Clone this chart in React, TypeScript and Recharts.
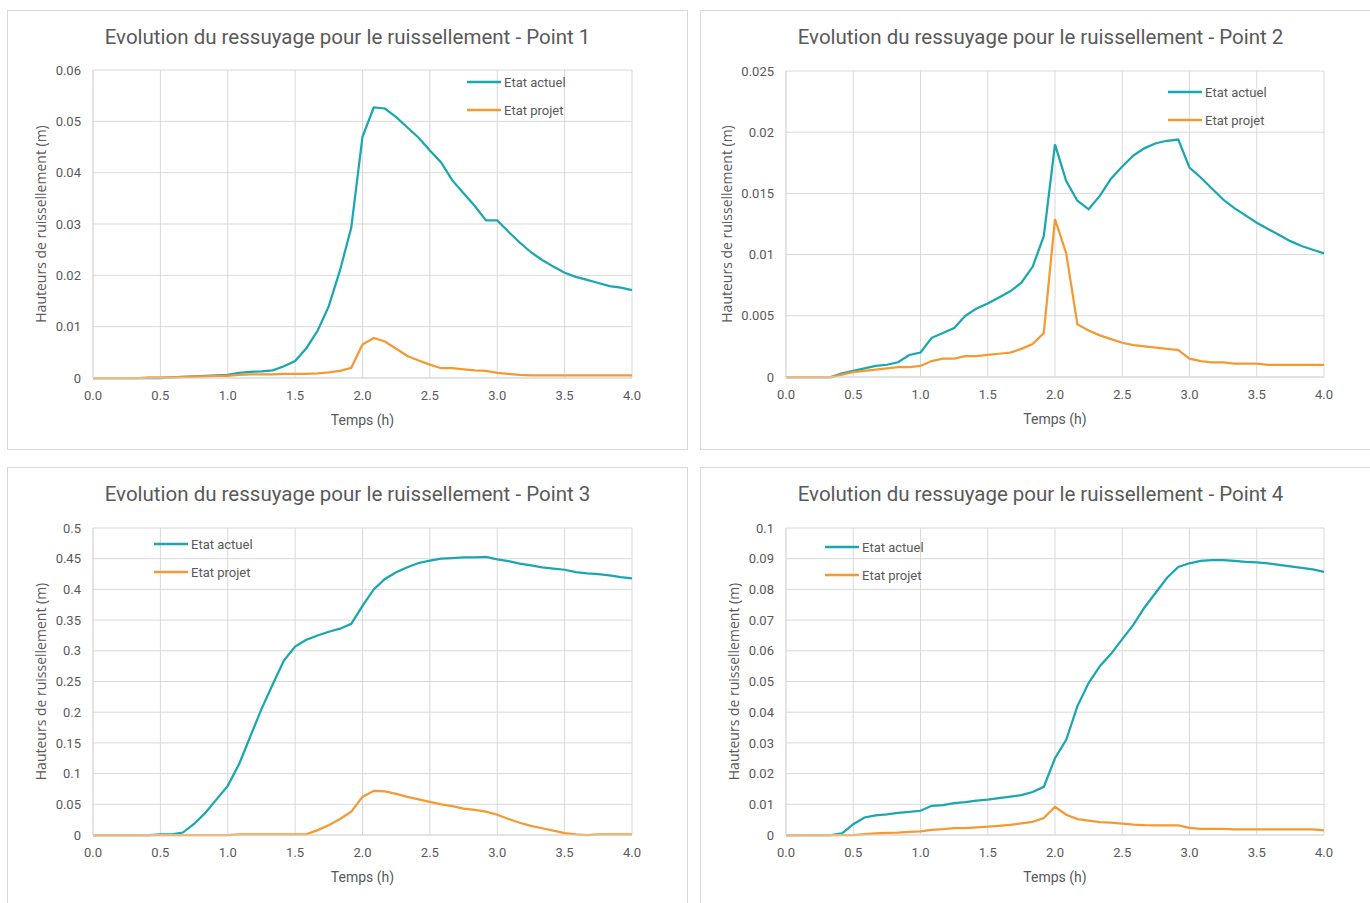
import React from 'react';
import { LineChart, Line, XAxis, YAxis, CartesianGrid, Legend } from 'recharts';

// Time steps (minutes), 5-minute interval over 4 hours
const MINUTES = [
  0, 5, 10, 15, 20, 25, 30, 35, 40, 45, 50, 55, 60, 65, 70, 75, 80, 85, 90, 95, 100, 105, 110, 115, 120,
  125, 130, 135, 140, 145, 150, 155, 160, 165, 170, 175, 180, 185, 190, 195, 200, 205, 210, 215, 220, 225,
  230, 235, 240,
];

const X_TICKS = [0, 0.5, 1, 1.5, 2, 2.5, 3, 3.5, 4];

const SERIES_NAMES = ['Etat actuel', 'Etat projet'];
const SERIES_COLORS = ['#1aa7b0', '#f39a33'];

// Point 1
const P1_ACTUEL = [
  0, 0, 0, 0, 0, 0, 0, 0.0001, 0.0002, 0.0003, 0.0004, 0.0005, 0.0006, 0.001, 0.0012, 0.0013, 0.0015,
  0.0023, 0.0033, 0.0058, 0.0092, 0.014, 0.021, 0.0293, 0.047, 0.0527, 0.0525, 0.0508, 0.0488, 0.0468,
  0.0443, 0.042, 0.0385, 0.036, 0.0335, 0.0307, 0.0307, 0.0285, 0.0264, 0.0245, 0.023, 0.0217, 0.0205,
  0.0197, 0.0191, 0.0185, 0.0179, 0.0176, 0.0171,
];
const P1_PROJET = [
  0, 0, 0, 0, 0, 0.0001, 0.0001, 0.0001, 0.0002, 0.0003, 0.0003, 0.0004, 0.0004, 0.0006, 0.0007, 0.0007,
  0.0007, 0.0008, 0.0008, 0.0008, 0.0009, 0.0011, 0.0014, 0.002, 0.0065, 0.0078, 0.0071, 0.0057, 0.0043,
  0.0034, 0.0026, 0.0019, 0.0019, 0.0017, 0.0015, 0.0014, 0.001, 0.0008, 0.0006, 0.0005, 0.0005, 0.0005,
  0.0005, 0.0005, 0.0005, 0.0005, 0.0005, 0.0005, 0.0005,
];
const P1_Y_TICKS = [0, 0.01, 0.02, 0.03, 0.04, 0.05, 0.06];

// Point 2
const P2_ACTUEL = [
  0, 0, 0, 0, 0, 0.0003, 0.0005, 0.0007, 0.0009, 0.001, 0.0012, 0.0018, 0.002, 0.0032, 0.0036, 0.004,
  0.005, 0.0056, 0.006, 0.0065, 0.007, 0.0077, 0.009, 0.0115, 0.019, 0.016, 0.0144, 0.0137, 0.0148, 0.0162,
  0.0172, 0.0181, 0.0187, 0.0191, 0.0193, 0.0194, 0.0171, 0.0163, 0.0154, 0.0145, 0.0138, 0.0132, 0.0126,
  0.0121, 0.0116, 0.0111, 0.0107, 0.0104, 0.0101,
];
const P2_PROJET = [
  0, 0, 0, 0, 0, 0.0002, 0.0004, 0.0005, 0.0006, 0.0007, 0.0008, 0.0008, 0.0009, 0.0013, 0.0015, 0.0015,
  0.0017, 0.0017, 0.0018, 0.0019, 0.002, 0.0023, 0.0027, 0.0036, 0.0129, 0.0101, 0.0043, 0.0038, 0.0034,
  0.0031, 0.0028, 0.0026, 0.0025, 0.0024, 0.0023, 0.0022, 0.0015, 0.0013, 0.0012, 0.0012, 0.0011, 0.0011,
  0.0011, 0.001, 0.001, 0.001, 0.001, 0.001, 0.001,
];
const P2_Y_TICKS = [0, 0.005, 0.01, 0.015, 0.02, 0.025];

// Point 3
const P3_ACTUEL = [
  0, 0, 0, 0, 0, 0, 0.001, 0.001, 0.004, 0.018, 0.036, 0.058, 0.08, 0.115, 0.16, 0.205, 0.245, 0.284, 0.307,
  0.318, 0.325, 0.331, 0.336, 0.344, 0.373, 0.4, 0.417, 0.428, 0.436, 0.443, 0.447, 0.45, 0.451, 0.452,
  0.452, 0.453, 0.449, 0.446, 0.442, 0.439, 0.436, 0.434, 0.432, 0.428, 0.426, 0.425, 0.423, 0.42, 0.418,
];
const P3_PROJET = [
  0, 0, 0, 0, 0, 0, 0, 0, 0, 0, 0, 0, 0, 0.001, 0.001, 0.001, 0.001, 0.001, 0.001, 0.001, 0.008, 0.016,
  0.026, 0.038, 0.062, 0.072, 0.071, 0.067, 0.062, 0.058, 0.054, 0.05, 0.047, 0.043, 0.041, 0.038, 0.033,
  0.026, 0.02, 0.015, 0.011, 0.007, 0.003, 0.001, 0, 0.001, 0.001, 0.001, 0.001,
];
const P3_Y_TICKS = [0, 0.05, 0.1, 0.15, 0.2, 0.25, 0.3, 0.35, 0.4, 0.45, 0.5];

// Point 4
const P4_ACTUEL = [
  0, 0, 0, 0, 0, 0.0005, 0.0035, 0.0057, 0.0064, 0.0067, 0.0072, 0.0075, 0.0079, 0.0095, 0.0097, 0.0104,
  0.0107, 0.0112, 0.0115, 0.012, 0.0125, 0.013, 0.014, 0.0157, 0.025, 0.031, 0.042, 0.0495, 0.055, 0.059,
  0.0638, 0.0685, 0.0742, 0.079, 0.0838, 0.0873, 0.0885, 0.0893, 0.0895, 0.0895, 0.0893, 0.089, 0.0888,
  0.0885, 0.088, 0.0875, 0.087, 0.0865, 0.0857,
];
const P4_PROJET = [
  0, 0, 0, 0, 0, 0, 0, 0.0003, 0.0005, 0.0007, 0.0008, 0.001, 0.0012, 0.0017, 0.0019, 0.0022, 0.0022,
  0.0025, 0.0027, 0.003, 0.0033, 0.0038, 0.0043, 0.0055, 0.0092, 0.0066, 0.0052, 0.0047, 0.0042, 0.004,
  0.0037, 0.0034, 0.0032, 0.0031, 0.0031, 0.0031, 0.0023, 0.002, 0.002, 0.002, 0.0018, 0.0018, 0.0018,
  0.0018, 0.0018, 0.0018, 0.0018, 0.0018, 0.0015,
];
const P4_Y_TICKS = [0, 0.01, 0.02, 0.03, 0.04, 0.05, 0.06, 0.07, 0.08, 0.09, 0.1];

const TITLES = [
  'Evolution du ressuyage pour le ruissellement - Point 1',
  'Evolution du ressuyage pour le ruissellement - Point 2',
  'Evolution du ressuyage pour le ruissellement - Point 3',
  'Evolution du ressuyage pour le ruissellement - Point 4',
];
const X_LABEL = 'Temps (h)';
const Y_LABEL = 'Hauteurs de ruissellement (m)';

const buildData = (actuel: number[], projet: number[]) =>
  MINUTES.map((m, i) => ({ t: m / 60, actuel: actuel[i], projet: projet[i] }));

const W = 681;
const H = 440;
const TEXT = '#595959';
const GRID = '#d9d9d9';
const FONT = 'Roboto, "Liberation Sans", sans-serif';

type PanelCfg = {
  title: string;
  data: { t: number; actuel: number; projet: number }[];
  yTicks: number[];
  left: number;
  top: number;
  plotLeft: number;
  plotRight: number;
  plotTop: number;
  plotBottom: number;
  yLabelX: number;
  legendLeft: number;
  legendTop: number;
};

const PANELS: PanelCfg[] = [
  {
    title: TITLES[0], data: buildData(P1_ACTUEL, P1_PROJET), yTicks: P1_Y_TICKS,
    left: 7, top: 10, plotLeft: 86, plotRight: 625, plotTop: 60, plotBottom: 368,
    yLabelX: 33, legendLeft: 460, legendTop: 58,
  },
  {
    title: TITLES[1], data: buildData(P2_ACTUEL, P2_PROJET), yTicks: P2_Y_TICKS,
    left: 700, top: 10, plotLeft: 86, plotRight: 624, plotTop: 61, plotBottom: 367,
    yLabelX: 26, legendLeft: 468, legendTop: 68,
  },
  {
    title: TITLES[2], data: buildData(P3_ACTUEL, P3_PROJET), yTicks: P3_Y_TICKS,
    left: 7, top: 467, plotLeft: 86, plotRight: 625, plotTop: 61, plotBottom: 368,
    yLabelX: 33, legendLeft: 147, legendTop: 63,
  },
  {
    title: TITLES[3], data: buildData(P4_ACTUEL, P4_PROJET), yTicks: P4_Y_TICKS,
    left: 700, top: 467, plotLeft: 86, plotRight: 624, plotTop: 61, plotBottom: 368,
    yLabelX: 33, legendLeft: 125, legendTop: 66,
  },
];

const fmtY = (v: number) => (v === 0 ? '0' : String(parseFloat(v.toFixed(4))));
const fmtX = (v: number) => v.toFixed(1);

const LegendBox = () => (
  <div style={{ fontFamily: FONT, fontSize: 13, color: TEXT }}>
    {SERIES_NAMES.map((name, i) => (
      <div key={name} style={{ display: 'flex', alignItems: 'center', height: 28, whiteSpace: 'nowrap' }}>
        <svg width={34} height={4} style={{ display: 'block' }}>
          <line x1={0} y1={2} x2={34} y2={2} stroke={SERIES_COLORS[i]} strokeWidth={2.5} />
        </svg>
        <span style={{ marginLeft: 3 }}>{name}</span>
      </div>
    ))}
  </div>
);

function Panel({ cfg }: { cfg: PanelCfg }) {
  const plotH = cfg.plotBottom - cfg.plotTop;
  const yMax = cfg.yTicks[cfg.yTicks.length - 1];
  const xLabel = () => (
    <text
      x={(cfg.plotLeft + cfg.plotRight) / 2}
      y={cfg.plotBottom + 42}
      textAnchor="middle"
      dominantBaseline="central"
      fill={TEXT}
      fontSize={14}
      fontFamily={FONT}
    >
      {X_LABEL}
    </text>
  );
  const yLabel = () => {
    const x = cfg.yLabelX;
    const y = cfg.plotTop + plotH / 2;
    return (
      <text
        x={x}
        y={y}
        transform={`rotate(-90, ${x}, ${y})`}
        textAnchor="middle"
        dominantBaseline="central"
        fill={TEXT}
        fontSize={14}
        fontFamily='"Open Sans", sans-serif'
      >
        {Y_LABEL}
      </text>
    );
  };
  return (
    <div
      style={{
        position: 'absolute', left: cfg.left, top: cfg.top, width: W, height: H,
        boxSizing: 'border-box', border: `1px solid ${GRID}`, background: '#fff',
      }}
    >
      <div
        style={{
          position: 'absolute', left: -1, top: 13, width: W, textAlign: 'center',
          fontFamily: FONT, fontSize: 20.5, lineHeight: '26px', color: TEXT, whiteSpace: 'nowrap',
        }}
      >
        {cfg.title}
      </div>
      <div style={{ position: 'absolute', left: -1, top: -1 }}>
        <LineChart
          width={W}
          height={H}
          data={cfg.data}
          margin={{ top: cfg.plotTop, right: W - cfg.plotRight, left: 0, bottom: 0 }}
        >
          <CartesianGrid stroke={GRID} strokeWidth={1} />
          <XAxis
            dataKey="t"
            type="number"
            domain={[0, 4]}
            ticks={X_TICKS}
            tickFormatter={fmtX}
            height={H - cfg.plotBottom}
            axisLine={{ stroke: GRID }}
            tickLine={false}
            tickSize={0}
            tickMargin={13}
            tick={{ fill: TEXT, fontSize: 13, fontFamily: FONT }}
            interval={0}
            label={xLabel}
          />
          <YAxis
            type="number"
            domain={[0, yMax]}
            ticks={cfg.yTicks}
            tickFormatter={fmtY}
            width={cfg.plotLeft}
            axisLine={{ stroke: GRID }}
            tickLine={false}
            tickSize={0}
            tickMargin={12}
            tick={{ fill: TEXT, fontSize: 13, fontFamily: FONT }}
            interval={0}
            label={yLabel}
          />
          <Legend
            layout="vertical"
            align="center"
            verticalAlign="middle"
            content={LegendBox}
            wrapperStyle={{ left: cfg.legendLeft, top: cfg.legendTop, width: 'auto' }}
          />
          <Line
            type="linear"
            dataKey="actuel"
            name={SERIES_NAMES[0]}
            stroke={SERIES_COLORS[0]}
            strokeWidth={2.25}
            dot={false}
            activeDot={false}
            isAnimationActive={false}
          />
          <Line
            type="linear"
            dataKey="projet"
            name={SERIES_NAMES[1]}
            stroke={SERIES_COLORS[1]}
            strokeWidth={2.25}
            dot={false}
            activeDot={false}
            isAnimationActive={false}
          />
        </LineChart>
      </div>
    </div>
  );
}

export default function App() {
  return (
    <div style={{ position: 'relative', width: 1370, height: 903, overflow: 'hidden', background: '#fff' }}>
      <style>{'html,body{margin:0;padding:0;overflow:hidden;background:#fff}'}</style>
      {PANELS.map((p) => (
        <Panel key={p.title} cfg={p} />
      ))}
    </div>
  );
}
